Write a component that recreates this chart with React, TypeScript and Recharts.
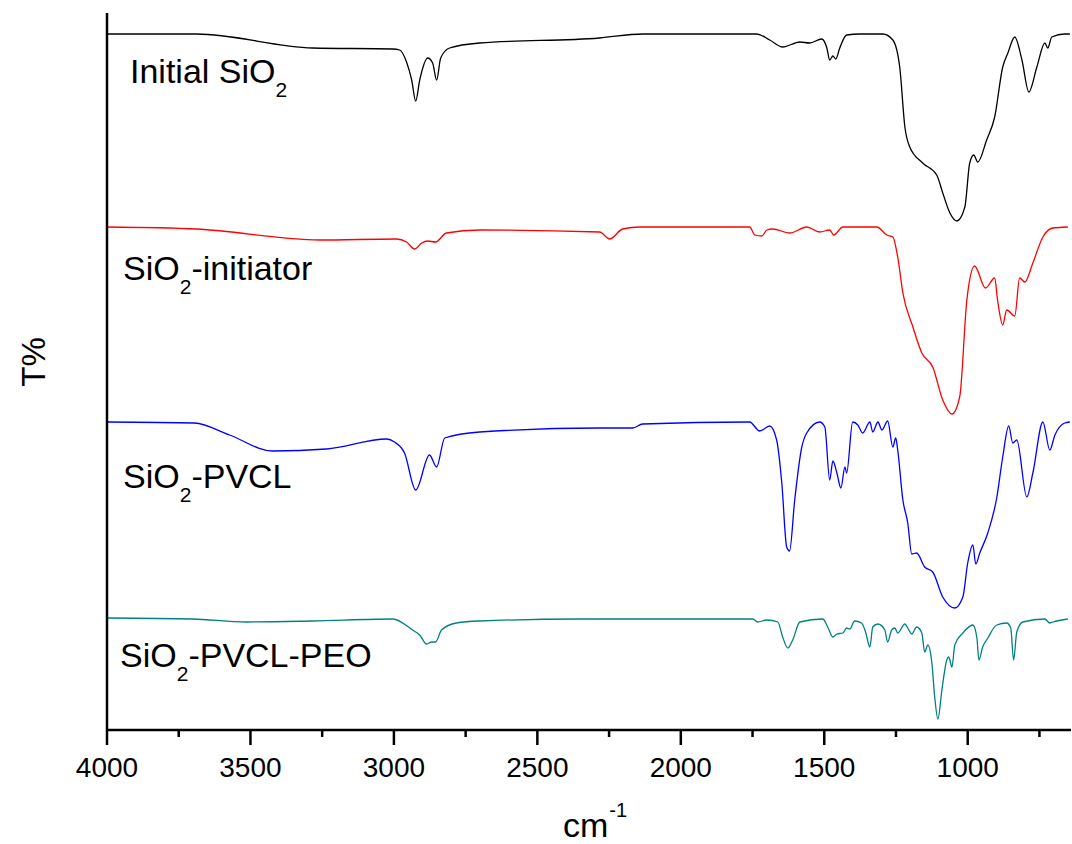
import React from "react";
import { LineChart, Line, XAxis, YAxis } from "recharts";

// wavenumber (cm-1), transmittance (a.u., stacked/offset as in the figure)
const initialSiO2: [number, number][] = [
  [4000, 348], [3688, 348], [3283, 341], [3004, 340.5], [2980, 340], [2956, 334], [2938, 325],
  [2924, 314.5], [2910, 325], [2882, 336], [2865, 333.5], [2851, 325], [2837, 336], [2806, 341],
  [2701, 343.5], [2283, 346], [2133, 348], [1735, 348], [1690, 345], [1645, 341.5], [1585, 344],
  [1551, 343.5], [1509, 345.5], [1491, 341], [1481, 335], [1470, 337], [1460, 335.5], [1446, 341],
  [1422, 347.5], [1376, 348], [1296, 348], [1261, 345], [1237, 331.5], [1219, 301.5], [1202, 291.5],
  [1157, 283.5], [1108, 277.5], [1087, 268.5], [1062, 258.5], [1038, 254.5], [1010, 261.5],
  [993, 283.5], [979, 287.5], [965, 284], [934, 295], [906, 306.5], [878, 331.5], [860, 338.5],
  [836, 346.5], [811, 335], [787, 319], [759, 331.5], [731, 343.5], [721, 341], [707, 346.5],
  [662, 348], [644, 348],
];

const sio2Initiator: [number, number][] = [
  [4000, 251.5], [3688, 250.5], [3259, 245], [2991, 245.5], [2956, 244], [2928, 240.5], [2903, 243.5],
  [2882, 244.5], [2855, 244], [2817, 248.5], [2701, 250], [2283, 249], [2248, 245.5], [2203, 250.5],
  [2143, 251.5], [1760, 251.5], [1742, 247.5], [1718, 247], [1700, 250], [1680, 250.5], [1620, 248.5],
  [1561, 251.5], [1516, 249], [1481, 250], [1467, 247.5], [1435, 251.5], [1317, 251.5], [1282, 247.5],
  [1261, 246.5], [1244, 236.5], [1226, 218.5], [1191, 201.5], [1160, 188.5], [1122, 181.5],
  [1087, 165], [1055, 158], [1028, 166.5], [1003, 215], [976, 232], [938, 221], [906, 226],
  [896, 215], [878, 202.5], [864, 210], [836, 207], [819, 226], [801, 224], [773, 233.5],
  [738, 246.5], [703, 251], [651, 251.5],
];

const sio2Pvcl: [number, number][] = [
  [4000, 154], [3695, 153.5], [3573, 147.5], [3423, 139.5], [3235, 140.5], [3025, 145.5], [2998, 144],
  [2963, 138.5], [2924, 120], [2876, 137.5], [2851, 131.5], [2823, 146], [2701, 149], [2283, 151],
  [2168, 151], [2133, 153], [1760, 154], [1725, 149.5], [1690, 152], [1666, 145], [1648, 123.5],
  [1631, 91.5], [1621, 89.5], [1603, 115], [1579, 141], [1561, 148.5], [1516, 154], [1498, 151.5],
  [1481, 125], [1470, 134.5], [1456, 128.5], [1442, 121], [1428, 131.5], [1422, 128.5], [1401, 154],
  [1383, 152.5], [1366, 148.5], [1341, 154], [1331, 149], [1313, 154], [1299, 150], [1279, 154.5],
  [1261, 141.5], [1251, 146], [1244, 140], [1226, 115], [1209, 103.5], [1195, 88], [1178, 88.5],
  [1150, 81.5], [1122, 79], [1087, 66.5], [1045, 61], [1017, 66.5], [1000, 83.5], [982, 92.5],
  [972, 83], [958, 88.5], [930, 98.5], [899, 116], [878, 136.5], [857, 152], [843, 143.5],
  [829, 145], [794, 116.5], [773, 128.5], [738, 154], [714, 140], [696, 147.5], [662, 153.5],
  [644, 154],
];

const sio2PvclPeo: [number, number][] = [
  [4000, 56], [3702, 55.5], [3514, 54], [3283, 54.5], [3004, 55.5], [2935, 50], [2910, 47.5],
  [2886, 43], [2868, 44], [2855, 44], [2834, 50], [2782, 53.5], [2701, 54.5], [2353, 55.5],
  [1749, 55.5], [1732, 54], [1700, 55], [1662, 54], [1645, 46.5], [1627, 41], [1610, 45],
  [1585, 54], [1505, 55.5], [1488, 51.5], [1470, 46.5], [1456, 48], [1435, 48.5], [1422, 51],
  [1411, 50.5], [1394, 54.5], [1370, 53.5], [1356, 49], [1341, 41.5], [1331, 51.5], [1313, 53],
  [1289, 50], [1279, 44], [1265, 50], [1254, 51], [1244, 48.5], [1219, 53], [1209, 51],
  [1195, 48], [1178, 51.5], [1160, 48.5], [1150, 39], [1139, 42.5], [1125, 33.5], [1115, 16.5],
  [1104, 5.5], [1090, 20], [1073, 35], [1066, 36.5], [1055, 31.5], [1045, 42.5], [1017, 48.5],
  [982, 52.5], [968, 46], [961, 35], [948, 41.5], [930, 46], [899, 52.5], [864, 53.5], [850, 51],
  [840, 35], [829, 49], [808, 54], [731, 55.5], [714, 53.5], [703, 54], [651, 55.5],
];

const xTicks = [4000, 3750, 3500, 3250, 3000, 2750, 2500, 2250, 2000, 1750, 1500, 1250, 1000, 750];
const yTicks = [0, 10, 20, 30, 40, 50, 60, 70, 80, 90, 100, 110, 120, 130, 140, 150, 160, 170, 180, 190, 200,
  210, 220, 230, 240, 250, 260, 270, 280, 290, 300, 310, 320, 330, 340, 350];

const seriesNames = ["Initial SiO2", "SiO2-initiator", "SiO2-PVCL", "SiO2-PVCL-PEO"];
const seriesColors = ["#000000", "#ff0000", "#0000ff", "#008080"];
const seriesData = [initialSiO2, sio2Initiator, sio2Pvcl, sio2PvclPeo];

const FONT = "Arial, 'Liberation Sans', Helvetica, sans-serif";

const toRows = (arr: [number, number][]) => arr.map(([wn, t]) => ({ wn, t }));

const XTick = (props: any) => {
  const { x, y, payload } = props;
  const major = payload.value % 500 === 0;
  return (
    <g>
      <line x1={x} x2={x} y1={y} y2={y + (major ? 15 : 7)} stroke="#000" strokeWidth={2.5} />
      {major && (
        <text x={x} y={y + 47} textAnchor="middle" fontSize={28} fontFamily={FONT} fill="#000">
          {payload.value}
        </text>
      )}
    </g>
  );
};

const Sub = ({ children }: { children: string }) => (
  <tspan dy={14} fontSize={21}>{children}</tspan>
);

export default function App() {
  return (
    <div style={{ position: "absolute", left: 0, top: 0, width: 1072, height: 844, background: "#fff" }}>
      <LineChart
        width={1072}
        height={844}
        margin={{ top: 13, right: 1, bottom: 84, left: 57 }}
      >
        <XAxis
          type="number"
          dataKey="wn"
          domain={[640, 4000]}
          reversed
          ticks={xTicks}
          interval={0}
          tick={<XTick />}
          tickLine={false}
          tickSize={0}
          tickMargin={0}
          height={30}
          axisLine={{ stroke: "#000", strokeWidth: 2.5 }}
          allowDataOverflow
        />
        <YAxis
          type="number"
          domain={[0, 358.5]}
          ticks={yTicks}
          tick={false}
          tickSize={3}
          width={50}
          tickLine={{ stroke: "#000", strokeWidth: 1 }}
          axisLine={{ stroke: "#000", strokeWidth: 2.5 }}
          allowDataOverflow
        />
        {seriesData.map((d, i) => (
          <Line
            key={seriesNames[i]}
            data={toRows(d)}
            dataKey="t"
            name={seriesNames[i]}
            type="monotone"
            stroke={seriesColors[i]}
            strokeWidth={1.3}
            dot={false}
            activeDot={false}
            isAnimationActive={false}
          />
        ))}
      </LineChart>
      <svg
        width={1072}
        height={844}
        style={{ position: "absolute", left: 0, top: 0, pointerEvents: "none" }}
      >
        <g fontFamily={FONT} fill="#000">
          <text x={130} y={83} fontSize={34}>
            Initial SiO<Sub>2</Sub>
          </text>
          <text x={123} y={280} fontSize={34}>
            SiO<Sub>2</Sub><tspan dy={-14}>-initiator</tspan>
          </text>
          <text x={123} y={488} fontSize={34}>
            SiO<Sub>2</Sub><tspan dy={-14}>-PVCL</tspan>
          </text>
          <text x={120} y={667} fontSize={34}>
            SiO<Sub>2</Sub><tspan dy={-14}>-PVCL-PEO</tspan>
          </text>
          <text x={45} y={362} fontSize={33} textAnchor="middle" transform="rotate(-90, 45, 362)">
            T%
          </text>
          <text x={563} y={837} fontSize={34}>
            cm<tspan dx={1} dy={-20} fontSize={20}>-1</tspan>
          </text>
        </g>
      </svg>
    </div>
  );
}
